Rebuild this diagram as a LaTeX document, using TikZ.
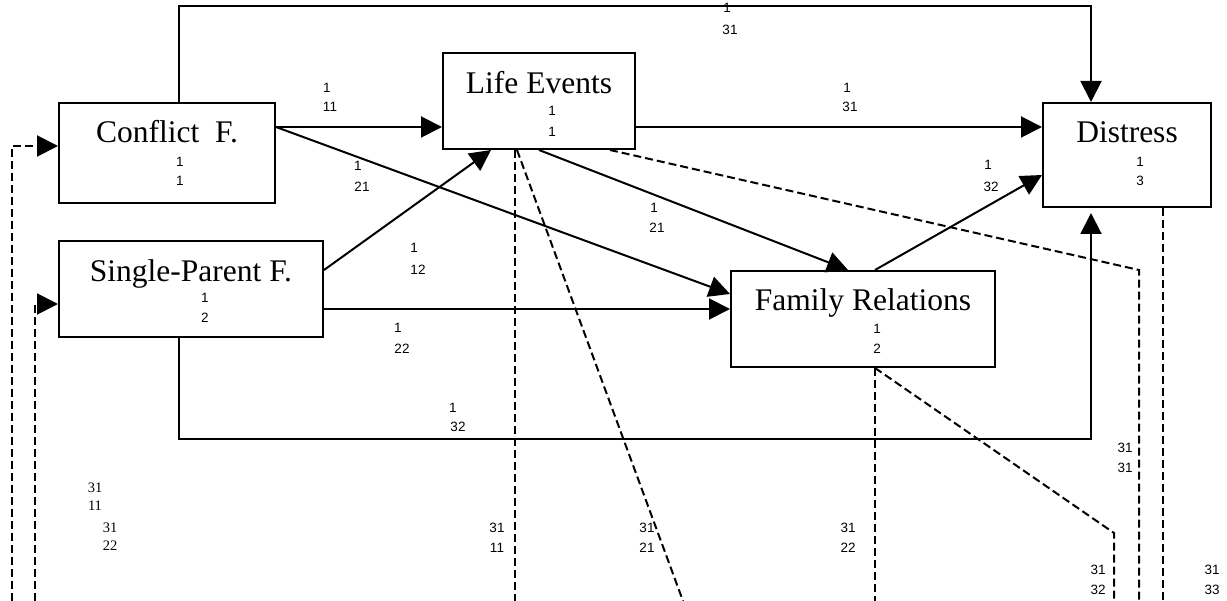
\documentclass[tikz,border=0pt]{standalone}
\usepackage{fontspec}
\setmainfont{Liberation Serif}
\newfontfamily\arialfont{Liberation Sans}
\usetikzlibrary{arrows.meta,calc}

\begin{document}
\begin{tikzpicture}[x=1pt,y=-1pt,
  box/.style={draw,line width=2pt,inner sep=0pt,fill=white},
  title/.style={font=\fontsize{31.5}{36}\selectfont,anchor=base,inner sep=0pt},
  num/.style={font=\arialfont\fontsize{13.5}{16}\selectfont,inner sep=0pt},
  snum/.style={font=\fontsize{14.5}{17}\selectfont,inner sep=0pt},
  arr/.style={line width=2pt,-{Triangle[length=21pt,width=21pt]}},
  dsh/.style={line width=2pt,dash pattern=on 8pt off 4pt}]

\useasboundingbox (0,0) rectangle (1227,601);

% variable boxes
\node[box,minimum width=216pt,minimum height=100pt] (cf) at (167,153) {};
\node[box,minimum width=192pt,minimum height=96pt]  (le) at (539,101) {};
\node[box,minimum width=168pt,minimum height=104pt] (ds) at (1127,155) {};
\node[box,minimum width=264pt,minimum height=96pt]  (sp) at (191,289) {};
\node[box,minimum width=264pt,minimum height=96pt]  (fr) at (863,319) {};

% box titles and indices
\node[title] (cft) at (167,143) {Conflict\ \ F.};
\node[num] (cfa) at (180,162) {1};
\node[num] (cfb) at (180,181) {1};
\node[title] (let) at (539,94) {Life Events};
\node[num] (lea) at (552,111) {1};
\node[num] (leb) at (552,132) {1};
\node[title] (dst) at (1127,143) {Distress};
\node[num] (dsa) at (1140,162) {1};
\node[num] (dsb) at (1140,181) {3};
\node[title] (spt) at (191,282) {Single-Parent F.};
\node[num] (spa) at (205,298) {1};
\node[num] (spb) at (205,318) {2};
\node[title] (frt) at (863,311) {Family Relations};
\node[num] (fra) at (877,329) {1};
\node[num] (frb) at (877,349) {2};

% structural paths
\draw[arr] ([xshift=12pt]cf.north) -- ++(0,-96) -| ([xshift=-36pt]ds.north);
\draw[arr] ([yshift=26pt]cf.east) -- ([yshift=-26pt]le.west);
\draw[arr] ([yshift=-26pt]le.east) -- ([yshift=28pt]ds.west);
\draw[arr] ([yshift=26pt]cf.east) -- ([yshift=25pt]fr.west);
\draw[arr] ([yshift=19pt]sp.east) -- ([xshift=-48pt]le.south);
\draw[arr] ([yshift=-20pt]sp.east) -- ([yshift=10pt]fr.west);
\draw[arr] (le.south) -- ([xshift=-15pt]fr.north);
\draw[arr] ([xshift=12pt]fr.north) -- ([yshift=-20pt]ds.west);
\draw[arr,shorten >=5pt] ([xshift=-12pt]sp.south) -- ++(0,101) -| ([xshift=-36pt]ds.south);

% path coefficients
\node[num] (p1a) at (727,8) {1};   \node[num] (p1b) at (730,30) {31};
\node[num] (p2a) at (327,88) {1};  \node[num] (p2b) at (330,107) {11};
\node[num] (p3a) at (847,88) {1};  \node[num] (p3b) at (850,107) {31};
\node[num] (p4a) at (358,166) {1}; \node[num] (p4b) at (362,187) {21};
\node[num] (p5a) at (414,248) {1}; \node[num] (p5b) at (418,270) {12};
\node[num] (p6a) at (398,328) {1}; \node[num] (p6b) at (402,349) {22};
\node[num] (p7a) at (654,208) {1}; \node[num] (p7b) at (657,228) {21};
\node[num] (p8a) at (988,165) {1}; \node[num] (p8b) at (991,187) {32};
\node[num] (p9a) at (453,408) {1}; \node[num] (p9b) at (458,427) {32};

% free ends of the residual paths
\coordinate (e1) at (515,601);
\coordinate (e2) at (683,601);
\coordinate (k3) at (1139,270);
\coordinate (e3) at (1139,601);
\coordinate (e4) at (1163,601);
\coordinate (e5) at (875,601);
\coordinate (k6) at (1114,533);
\coordinate (e6) at (1114,601);
\coordinate (e7) at (12,601);
\coordinate (e8) at (35,601);

% dashed paths
\draw[dsh] ([xshift=-24pt]le.south) -- (e1);
\draw[dsh] ([xshift=-22pt]le.south) -- (e2);
\draw[dsh] ([xshift=71pt]le.south) -- (k3) -- (e3);
\draw[dsh] ([xshift=36pt]ds.south) -- (e4);
\draw[dsh] ([xshift=12pt]fr.south) -- (e5);
\draw[dsh] ([xshift=12pt]fr.south) -- (k6) -- (e6);
\draw[dsh,-{Triangle[length=21pt,width=21pt]}] (e7) |- ([yshift=7pt]cf.west);
\draw[dsh,-{Triangle[length=21pt,width=21pt]}] (e8) |- ([yshift=-15pt]sp.west);

% residual coefficients
\node[num] (r1a) at (497,528) {31};  \node[num] (r1b) at (497,548) {11};
\node[num] (r2a) at (647,528) {31};  \node[num] (r2b) at (647,548) {21};
\node[num] (r3a) at (848,528) {31};  \node[num] (r3b) at (848,548) {22};
\node[num] (r4a) at (1125,448) {31}; \node[num] (r4b) at (1125,468) {31};
\node[num] (r5a) at (1098,570) {31}; \node[num] (r5b) at (1098,590) {32};
\node[num] (r6a) at (1212,570) {31}; \node[num] (r6b) at (1212,590) {33};
\node[snum] (s1a) at (95,488) {31};  \node[snum] (s1b) at (95,506) {11};
\node[snum] (s2a) at (110,528) {31}; \node[snum] (s2b) at (110,546) {22};
\end{tikzpicture}
\end{document}
